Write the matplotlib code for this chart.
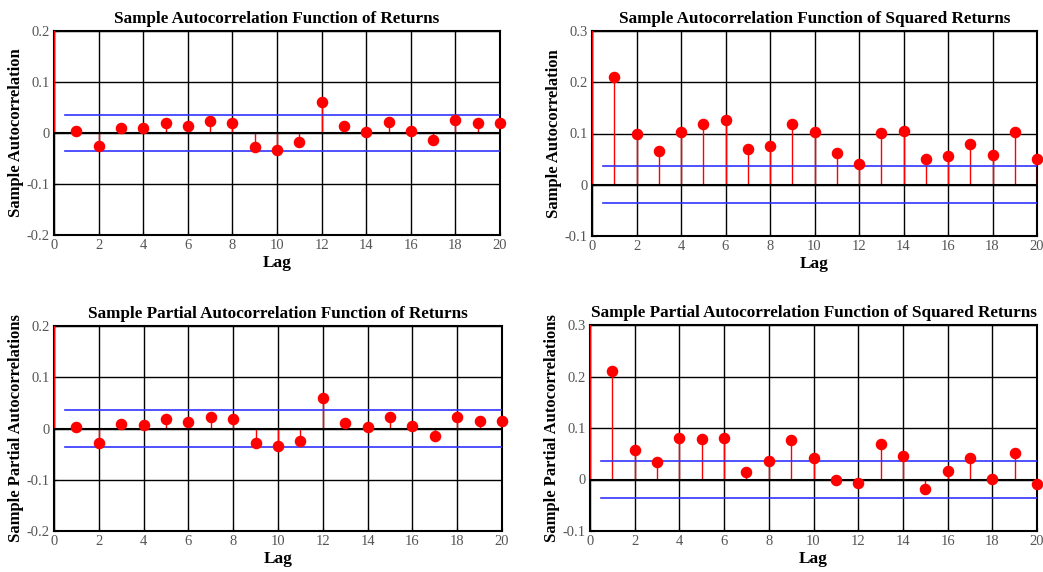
import numpy as np
import matplotlib
matplotlib.use("Agg")
import matplotlib.pyplot as plt

lags = np.arange(0, 21)

acf_ret = [1.0, 0.003, -0.026, 0.009, 0.009, 0.019, 0.014, 0.023, 0.019, -0.028, -0.034,
           -0.018, 0.061, 0.014, 0.001, 0.021, 0.004, -0.014, 0.025, 0.019, 0.019]
acf_sq = [1.0, 0.211, 0.100, 0.066, 0.103, 0.118, 0.127, 0.070, 0.075, 0.118, 0.103,
          0.061, 0.040, 0.101, 0.105, 0.050, 0.056, 0.080, 0.059, 0.103, 0.050]
pacf_ret = [1.0, 0.003, -0.029, 0.008, 0.006, 0.018, 0.013, 0.022, 0.018, -0.029, -0.034,
            -0.024, 0.059, 0.011, 0.003, 0.022, 0.005, -0.015, 0.022, 0.014, 0.014]
pacf_sq = [1.0, 0.210, 0.057, 0.034, 0.081, 0.079, 0.081, 0.014, 0.036, 0.077, 0.042,
           0.000, -0.006, 0.069, 0.045, -0.018, 0.017, 0.042, 0.001, 0.052, -0.009]
bound = 0.036

titles = ["Sample Autocorrelation Function of Returns",
          "Sample Autocorrelation Function of Squared Returns",
          "Sample Partial Autocorrelation Function of Returns",
          "Sample Partial Autocorrelation Function of Squared Returns"]
ylabels = ["Sample Autocorrelation", "Sample Autocorrelation",
           "Sample Partial Autocorrelations", "Sample Partial Autocorrelations"]
ylims = [(-0.2, 0.2), (-0.1, 0.3), (-0.2, 0.2), (-0.1, 0.3)]
series = [acf_ret, acf_sq, pacf_ret, pacf_sq]

plt.rcParams['font.family'] = ['Liberation Serif', 'DejaVu Serif']

W, H = 1043, 572
fig = plt.figure(figsize=(W / 100, H / 100), dpi=100)
# axes boxes in pixels: left, top, right, bottom
boxes = [(54, 31, 500, 235), (592, 31, 1037, 236),
         (54, 326, 502, 531), (590, 325, 1037, 531)]

for i in range(4):
    l, t, r, b = boxes[i]
    ax = fig.add_axes([l / W, 1 - b / H, (r - l) / W, (b - t) / H])
    vals = np.array(series[i])
    ax.grid(True, color='black', linewidth=1.0)
    ax.set_axisbelow(True)
    ax.vlines(lags, 0, vals, color='red', linewidth=1.0, zorder=3)
    ax.plot(lags[1:], vals[1:], 'o', color='red', markersize=7.3, zorder=4, clip_on=False)
    ax.axhline(0, color='black', linewidth=1.5, zorder=3)
    ax.plot([0.5, 20], [bound, bound], color='#3333ff', linewidth=1.2, zorder=3)
    ax.plot([0.5, 20], [-bound, -bound], color='#3333ff', linewidth=1.2, zorder=3)
    ax.set_xlim(0, 20)
    ax.set_ylim(*ylims[i])
    ax.set_xticks(np.arange(0, 21, 2))
    lo, hi = ylims[i]
    yt = np.round(np.arange(lo, hi + 0.001, 0.1), 1)
    ax.set_yticks(yt)
    ax.set_yticklabels([("%g" % v) if v != 0 else "0" for v in yt])
    ax.tick_params(direction='in', length=3, labelsize=10.5, labelcolor='#555555', pad=3)
    for s in ax.spines.values():
        s.set_linewidth(1.5)
        s.set_color('black')
    ax.set_title(titles[i], fontsize=12.3, fontweight='bold', pad=6)
    ax.set_xlabel("Lag", fontsize=12.5, fontweight='bold', labelpad=2)
    ax.set_ylabel(ylabels[i], fontsize=12, fontweight='bold', labelpad=2)

fig.savefig("out.png", dpi=100)
